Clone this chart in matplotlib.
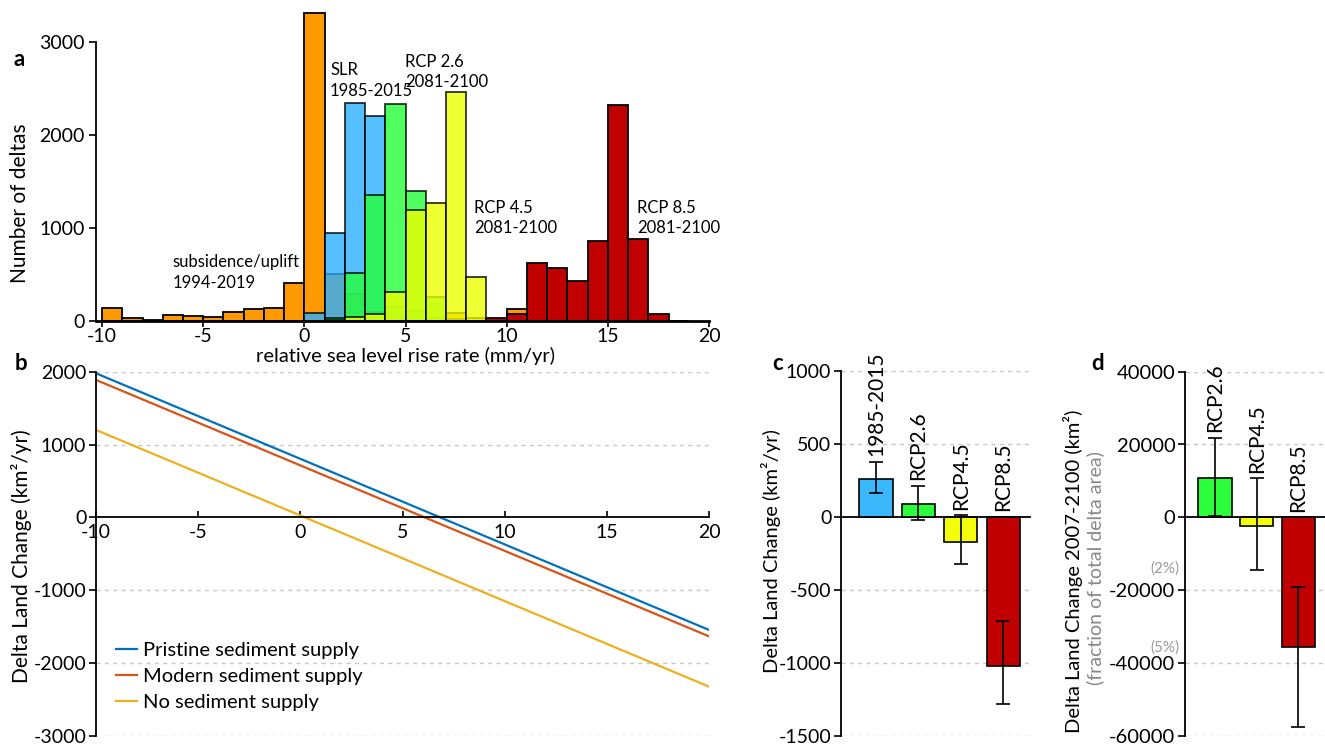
import numpy as np
import matplotlib
matplotlib.use("Agg")
import matplotlib.pyplot as plt

plt.rcParams['font.family'] = ['Lato', 'DejaVu Sans']
plt.rcParams['axes.unicode_minus'] = False

# ---------------- data ----------------
bin_left = np.arange(-10, 19)  # 1 mm/yr bins, left edges -10..18
subsidence = [137, 29, 8, 65, 54, 46, 100, 126, 143, 405, 3315, 505, 290, 100, 50, 40, 30, 83, 29, 10, 126,
              0, 0, 0, 0, 0, 0, 0, 0]
slr_1985 = [0, 0, 0, 0, 0, 0, 0, 0, 0, 0, 90, 950, 2347, 2207, 150, 110, 0, 0, 0, 0, 0,
            0, 0, 0, 0, 0, 0, 0, 0]
rcp26 = [0, 0, 0, 0, 0, 0, 0, 0, 0, 0, 0, 30, 513, 1355, 2330, 1401, 261, 20, 0, 0, 0,
         0, 0, 0, 0, 0, 0, 0, 0]
rcp45 = [0, 0, 0, 0, 0, 0, 0, 0, 0, 0, 0, 10, 46, 75, 315, 1194, 1274, 2459, 476, 5, 0,
         0, 0, 0, 0, 0, 0, 0, 0]
rcp85 = [0, 0, 0, 0, 0, 0, 0, 0, 0, 0, 0, 0, 0, 0, 0, 0, 0, 0, 0, 35, 75,
         620, 573, 433, 855, 2319, 877, 75, 5]

# panel b: linear relations (endpoints)
rslr_x = [-10, 20]
pristine = [1978, -1547]
modern = [1887, -1635]
no_sed = [1200, -2326]

# panel c
c_labels = ['1985-2015', 'RCP2.6', 'RCP4.5', 'RCP8.5']
c_vals = [256, 89, -173, -1022]
c_lo = [164, -23, -322, -1280]
c_hi = [377, 210, 10, -714]

# panel d
d_labels = ['RCP2.6', 'RCP4.5', 'RCP8.5']
d_vals = [10685, -2356, -35700]
d_lo = [274, -14603, -57616]
d_hi = [21836, 10685, -19178]
d_frac_vals = [-14137, -35890]
d_frac_labels = ['(2%)', '(5%)']

# ---------------- style ----------------
C_ORANGE = '#FF9900'
C_BLUE = '#2CAFFF'
C_GREEN = '#24FF38'
C_YELLOW = '#ECFF00'
C_RED = '#C00000'
GRID = '#C8C8C8'

W, H = 1325, 746
fig = plt.figure(figsize=(W / 100, H / 100), dpi=100)


def fx(px):
    return px / W


def fy(py):
    return 1 - py / H


# ---------------- panel a ----------------
axa = fig.add_axes([fx(96), fy(321), fx(613), (321 - 42) / H])
for vals, col, al in [(subsidence, C_ORANGE, 1.0), (slr_1985, C_BLUE, 0.8),
                      (rcp26, C_GREEN, 0.8), (rcp45, C_YELLOW, 0.8), (rcp85, C_RED, 1.0)]:
    axa.bar(bin_left, vals, width=1.0, align='edge', color=col, alpha=al,
            edgecolor='black', linewidth=1.3, clip_on=False)
axa.set_xlim(-10.3, 20)
axa.set_ylim(0, 3000)
axa.set_xticks([-10, -5, 0, 5, 10, 15, 20])
axa.set_xticklabels(['-10', '-5', '0', '5', '10', '15', '20'])
axa.set_yticks([0, 1000, 2000, 3000])
for s in ['top', 'right']:
    axa.spines[s].set_visible(False)
axa.spines['left'].set_linewidth(1.3)
axa.spines['bottom'].set_linewidth(2.0)
axa.tick_params(axis='y', labelsize=14, width=1.2, length=5, pad=3, direction='out')
axa.tick_params(axis='x', labelsize=14, width=1.2, length=4, pad=1, direction='out')

ann_kw = dict(fontsize=12, ha='left', va='center', linespacing=1.35)
axa.text(-6.51, 521, 'subsidence/uplift\n1994-2019', **ann_kw)
axa.text(1.27, 2586, 'SLR\n1985-2015', **ann_kw)
axa.text(4.99, 2677, 'RCP 2.6\n2081-2100', **ann_kw)
axa.text(8.39, 1108, 'RCP 4.5\n2081-2100', **ann_kw)
axa.text(16.46, 1108, 'RCP 8.5\n2081-2100', **ann_kw)

fig.text(fx(405), fy(356), 'relative sea level rise rate (mm/yr)', ha='center', va='center', fontsize=14.5)
fig.text(fx(20), fy(203), 'Number of deltas', rotation=90, ha='center', va='center', fontsize=15)
fig.text(fx(19), fy(60), 'a', ha='center', va='center', fontsize=16, fontweight='bold')

# ---------------- panel b ----------------
axb = fig.add_axes([fx(96), fy(735.7), fx(613), (735.7 - 371.7) / H])
l1, = axb.plot(rslr_x, pristine, color='#0072BD', lw=1.6)
l2, = axb.plot(rslr_x, modern, color='#D95319', lw=1.6)
l3, = axb.plot(rslr_x, no_sed, color='#EDB120', lw=1.6)
axb.set_xlim(-10, 20)
axb.set_ylim(-3000, 2000)
axb.set_yticks([-3000, -2000, -1000, 0, 1000, 2000])
axb.set_xticks([-10, -5, 0, 5, 10, 15, 20])
axb.set_xticklabels(['-10', '-5', '0', '5', '10', '15', '20'])
for yv in [-3000, -2000, -1000, 1000, 2000]:
    axb.axhline(yv, color=GRID, lw=1.0, ls=(0, (3, 3)), zorder=0)
for s in ['top', 'right']:
    axb.spines[s].set_visible(False)
axb.spines['bottom'].set_position(('data', 0))
axb.spines['bottom'].set_linewidth(1.3)
axb.spines['left'].set_linewidth(1.3)
axb.tick_params(axis='y', labelsize=14, width=1.2, length=5, direction='out', pad=2)
axb.tick_params(axis='x', labelsize=14, width=1.2, length=4, direction='in', pad=5)
leg = axb.legend([l1, l2, l3], ['Pristine sediment supply', 'Modern sediment supply', 'No sediment supply'],
                 loc='upper left', bbox_to_anchor=(fx(116), fy(642)), bbox_transform=fig.transFigure,
                 frameon=False, fontsize=14.5, handlelength=1.05, handletextpad=0.3,
                 labelspacing=0.45, borderpad=0, borderaxespad=0)
fig.text(fx(22), fy(556), 'Delta Land Change (km²/yr)', rotation=90, ha='center', va='center', fontsize=15)
fig.text(fx(21), fy(363), 'b', ha='center', va='center', fontsize=16, fontweight='bold')

# ---------------- panel c ----------------
axc = fig.add_axes([fx(841), fy(735.7), fx(189), (735.7 - 370.7) / H])
xc = np.arange(1, len(c_vals) + 1)
c_cols = ['#3BB8FB', '#2BFF3C', '#F2FF08', C_RED]
axc.bar(xc, c_vals, width=0.786, color=c_cols, edgecolor='black', linewidth=1.2, zorder=2)
yerr_c = [np.array(c_vals) - np.array(c_lo), np.array(c_hi) - np.array(c_vals)]
axc.errorbar(xc, c_vals, yerr=yerr_c, fmt='none', ecolor='black', elinewidth=1.2, capsize=5, capthick=1.2, zorder=3)
for x, lab, hi in zip(xc, c_labels, c_hi):
    axc.annotate(lab, xy=(x, max(hi, 0)), xytext=(0, 4), textcoords='offset points',
                 rotation=90, ha='center', va='bottom', fontsize=15)
axc.set_xlim(0.175, 4.632)
axc.set_ylim(-1500, 1000)
axc.set_yticks([-1500, -1000, -500, 0, 500, 1000])
axc.set_xticks([])
for yv in [-1500, -1000, -500, 500, 1000]:
    axc.axhline(yv, color=GRID, lw=1.0, ls=(0, (3, 3)), zorder=0)
for s in ['top', 'right']:
    axc.spines[s].set_visible(False)
axc.spines['bottom'].set_position(('data', 0))
axc.spines['bottom'].set_linewidth(1.3)
axc.spines['left'].set_linewidth(1.3)
axc.tick_params(axis='y', labelsize=14, width=1.2, length=5, direction='out', pad=2)
fig.text(fx(771), fy(551), 'Delta Land Change (km²/yr)', rotation=90, ha='center', va='center', fontsize=14.5)
fig.text(fx(778), fy(364), 'c', ha='center', va='center', fontsize=16, fontweight='bold')

# ---------------- panel d ----------------
axd = fig.add_axes([fx(1185), fy(735.7), fx(140), (735.7 - 371.7) / H])
xd = np.arange(1, len(d_vals) + 1)
d_cols = ['#2BFF3C', '#F2FF08', C_RED]
axd.bar(xd, d_vals, width=0.8, color=d_cols, edgecolor='black', linewidth=1.2, zorder=2)
yerr_d = [np.array(d_vals) - np.array(d_lo), np.array(d_hi) - np.array(d_vals)]
axd.errorbar(xd, d_vals, yerr=yerr_d, fmt='none', ecolor='black', elinewidth=1.2, capsize=5, capthick=1.2, zorder=3)
for x, lab, hi in zip(xd, d_labels, d_hi):
    axd.annotate(lab, xy=(x, max(hi, 0)), xytext=(0, 4), textcoords='offset points',
                 rotation=90, ha='center', va='bottom', fontsize=15)
axd.set_xlim(0.28, 3.64)
axd.set_ylim(-60000, 40000)
axd.set_yticks([-60000, -40000, -20000, 0, 20000, 40000])
axd.set_xticks([])
for yv in [-60000, -40000, -20000, 20000, 40000]:
    axd.axhline(yv, color=GRID, lw=1.0, ls=(0, (3, 3)), zorder=0)
for s in ['top', 'right']:
    axd.spines[s].set_visible(False)
axd.spines['bottom'].set_position(('data', 0))
axd.spines['bottom'].set_linewidth(1.3)
axd.spines['left'].set_linewidth(1.3)
axd.tick_params(axis='y', labelsize=14.5, width=1.2, length=5, direction='out', pad=2)
for yv, lab in zip(d_frac_vals, d_frac_labels):
    axd.annotate(lab, xy=(0, yv), xycoords=('axes fraction', 'data'), xytext=(-4, 0),
                 textcoords='offset points', ha='right', va='center', fontsize=11, color='#999999')
fig.text(fx(1073), fy(571), 'Delta Land Change 2007-2100 (km²)', rotation=90, ha='center', va='center', fontsize=14.5)
fig.text(fx(1095), fy(568), '(fraction of total delta area)', rotation=90, ha='center', va='center',
         fontsize=14, color='#888888')
fig.text(fx(1098), fy(364), 'd', ha='center', va='center', fontsize=16, fontweight='bold')

fig.savefig('out.png', dpi=100)
